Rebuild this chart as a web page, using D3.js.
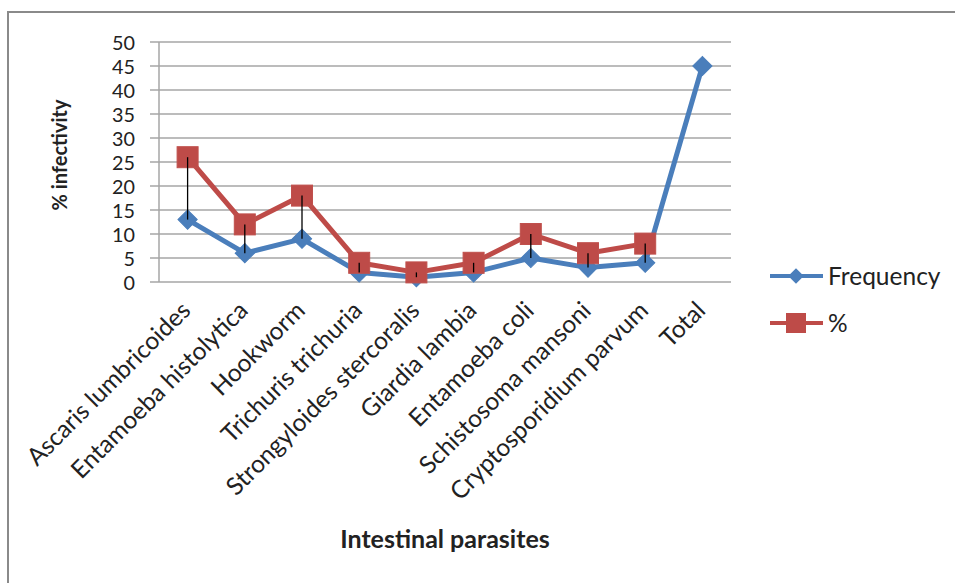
<!DOCTYPE html>
<html><head><meta charset="utf-8">
<script src="https://cdn.jsdelivr.net/npm/d3@7"></script>
<style>body{margin:0;background:#fff}svg{display:block}text{font-family:Lato,"Open Sans",sans-serif;fill:#222}</style>
</head><body><svg id="c" width="955" height="583"></svg>
<script>
const categories = ["Ascaris lumbricoides","Entamoeba histolytica","Hookworm","Trichuris trichuria","Strongyloides stercoralis","Giardia lambia","Entamoeba coli","Schistosoma mansoni","Cryptosporidium parvum","Total"];
const frequency = [13,6,9,2,1,2,5,3,4,45];
const percent = [26,12,18,4,2,4,10,6,8,null];
const yTicks = [0,5,10,15,20,25,30,35,40,45,50];
const seriesNames = ["Frequency","%"];

const svg = d3.select("#c");
svg.append("rect").attr("x",8).attr("y",12).attr("width",960).attr("height",600)
  .attr("fill","#fff").attr("stroke","#8a8a8a").attr("stroke-width",2);

const L=159, R=731, T=42, B=282;
const x = d3.scalePoint().domain(categories).range([L,R]).padding(0.5);
const y = d3.scaleLinear().domain([0,50]).range([B,T]);

// gridlines
svg.append("g").selectAll("line").data(yTicks).join("line")
  .attr("x1",150).attr("x2",R).attr("y1",d=>y(d)).attr("y2",d=>y(d))
  .attr("stroke","#a6a6a6").attr("stroke-width",1.5);
svg.append("line").attr("x1",L).attr("x2",L).attr("y1",T).attr("y2",B).attr("stroke","#a6a6a6").attr("stroke-width",1.5);

// y axis labels
const yAxis = d3.axisLeft(y).tickValues(yTicks).tickSize(0).tickPadding(0);
const gy = svg.append("g").attr("transform",`translate(${135},0)`).call(yAxis);
gy.select(".domain").remove();
gy.selectAll("text").style("font-size","19.8px").attr("fill","#222").attr("dy","0.36em");

// x axis labels
const gx = svg.append("g").attr("transform",`translate(0,${B})`).call(d3.axisBottom(x).tickSize(0).tickPadding(0));
gx.select(".domain").remove();
gx.selectAll("text").style("font-size","24.5px").attr("fill","#222")
  .attr("text-anchor","end").attr("dy","0").attr("y",0)
  .attr("transform","translate(4,30) rotate(-45)");

const blue="#4a7ebb", red="#be4b48";
const line = d3.line().defined(d=>d[1]!=null).x(d=>x(d[0])).y(d=>y(d[1]));
const fData = categories.map((c,i)=>[c,frequency[i]]);
const pData = categories.map((c,i)=>[c,percent[i]]);
svg.append("path").datum(fData).attr("d",line).attr("fill","none").attr("stroke",blue).attr("stroke-width",5).attr("stroke-linejoin","round");
svg.append("path").datum(pData).attr("d",line).attr("fill","none").attr("stroke",red).attr("stroke-width",5).attr("stroke-linejoin","round");

svg.append("g").selectAll("path").data(fData).join("path")
  .attr("d",d3.symbol(d3.symbolSquare,185))
  .attr("transform",d=>`translate(${x(d[0])},${y(d[1])}) rotate(45)`)
  .attr("fill",blue).attr("stroke",blue);
svg.append("g").selectAll("rect").data(pData.filter(d=>d[1]!=null)).join("rect")
  .attr("x",d=>x(d[0])-10.5).attr("y",d=>y(d[1])-10.5).attr("width",21).attr("height",21)
  .attr("fill",red).attr("stroke","#c0504d").attr("stroke-width",1);

// high-low lines
svg.append("g").selectAll("line").data(categories.filter((c,i)=>percent[i]!=null)).join("line")
  .attr("x1",d=>x(d)).attr("x2",d=>x(d))
  .attr("y1",d=>y(frequency[categories.indexOf(d)]))
  .attr("y2",d=>y(percent[categories.indexOf(d)]))
  .attr("stroke","#000").attr("stroke-width",1.3);

// axis titles
svg.append("text").attr("transform","translate(67,155) rotate(-90)").attr("text-anchor","middle")
  .style("font-size","20px").style("font-weight","bold").text("% infectivity");
svg.append("text").attr("x",445).attr("y",548).attr("text-anchor","middle")
  .style("font-size","25px").style("font-weight","bold").text("Intestinal parasites");

// legend
const leg = svg.append("g");
[[276,blue,"d"],[323,red,"s"]].forEach(([ly,col,m],i)=>{
  leg.append("line").attr("x1",770).attr("x2",823).attr("y1",ly).attr("y2",ly).attr("stroke",col).attr("stroke-width",4);
  if(m==="d") leg.append("path").attr("d",d3.symbol(d3.symbolSquare,120)).attr("transform",`translate(796,${ly}) rotate(45)`).attr("fill",col);
  else leg.append("rect").attr("x",786).attr("y",ly-10).attr("width",20).attr("height",20).attr("fill",col);
  leg.append("text").attr("x",828).attr("y",ly).attr("dy","0.36em").style("font-size","24.5px").text(seriesNames[i]);
});
</script></body></html>
